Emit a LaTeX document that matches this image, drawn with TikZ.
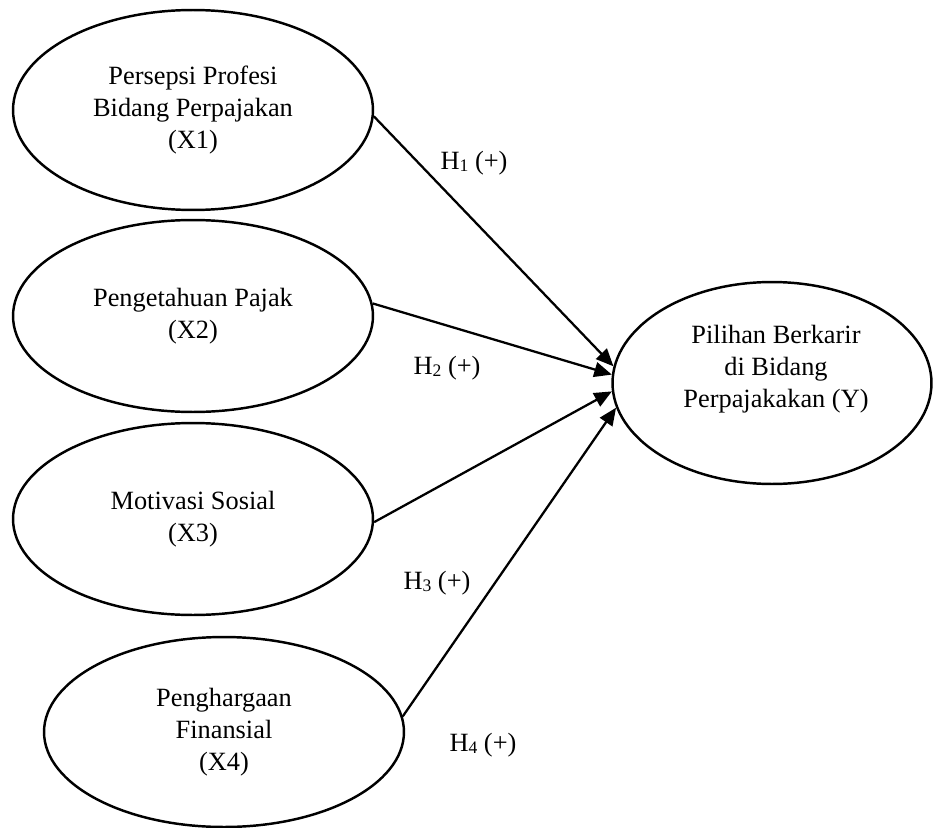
\documentclass[tikz,border=0pt]{standalone}
\usepackage{fontspec}
\setmainfont{Liberation Serif}
\usetikzlibrary{arrows.meta, shapes.geometric, positioning}
\newcommand{\hsub}[1]{\raisebox{-1pt}{\fontsize{10}{10}\selectfont #1}}
\tikzset{
  construct/.style = {ellipse, draw, line width=1.4pt, inner sep=0pt,
                      align=center, minimum width=7.2cm,
                      font={\fontsize{15}{18.4}\selectfont}},
  txt/.style       = {align=center, inner sep=0pt,
                      font={\fontsize{15}{18.4}\selectfont}},
  path/.style      = {-{Triangle[length=10pt, width=8.5pt]}, line width=1.3pt},
  hlbl/.style      = {inner sep=0pt, font={\fontsize{15}{18.4}\selectfont}},
}

\begin{document}
\begin{tikzpicture}[x=0.02cm,y=-0.02cm]
  \useasboundingbox (0,0) rectangle (933,828);
  % independent variables
  \node[construct, minimum height=4cm]    (x1) at (193,110) {Persepsi Profesi\\Bidang Perpajakan\\(X1)};
  \node[construct, minimum height=3.84cm] (x2) at (193,316) {Pengetahuan Pajak\\(X2)};
  \node[construct, minimum height=3.84cm] (x3) at (193,519) {Motivasi Sosial\\(X3)};
  \node[construct, minimum height=3.8cm]  (x4) at (224,732) {Penghargaan\\Finansial\\(X4)};
  % dependent variable
  \node[construct, minimum width=6.38cm, minimum height=4.04cm] (y) at (772,383) {};
  \node[txt] (ytxt) at (776,369) {Pilihan Berkarir\\di Bidang\\Perpajakakan (Y)};
  % paths
  \draw[path] (x1.-2.5) -- (y.174);
  \draw[path] (x2.4)    -- (y.177);
  \draw[path] (x3.-1)   -- (y.183.5);
  \draw[path] (x4.5)    -- (y.189);
  \node[hlbl] (h1) at (474,163) {H\hsub{1} (+)};
  \node[hlbl] (h2) at (447,368) {H\hsub{2} (+)};
  \node[hlbl] (h3) at (437,583) {H\hsub{3} (+)};
  \node[hlbl] (h4) at (483,745) {H\hsub{4} (+)};
\end{tikzpicture}
\end{document}
